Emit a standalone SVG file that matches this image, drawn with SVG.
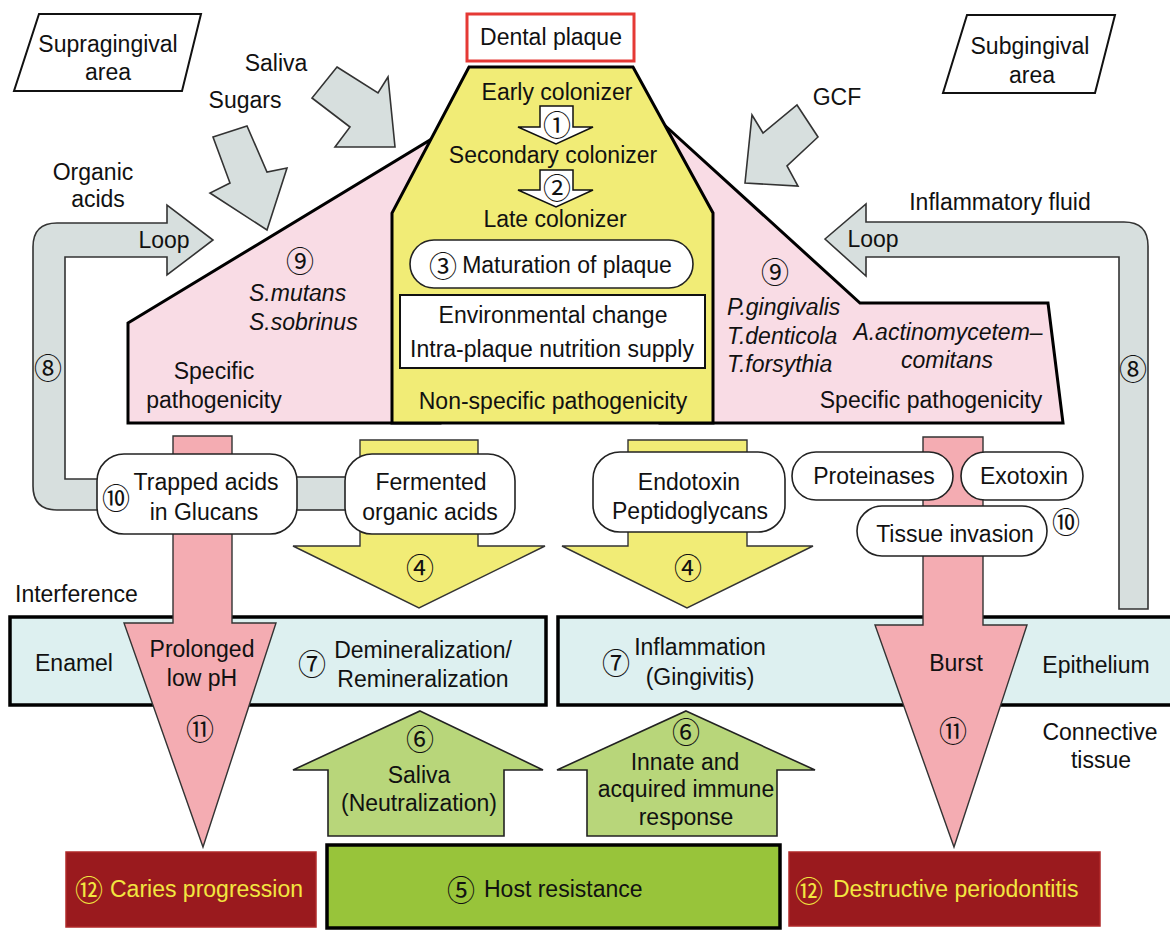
<svg xmlns="http://www.w3.org/2000/svg" width="1170" height="932" viewBox="0 0 1170 932">
<style>
text{font-family:"Liberation Sans","Noto Sans CJK JP",sans-serif;font-size:23px;fill:#111}
.c{text-anchor:middle}
.i{font-style:italic}
.n{font-family:"Noto Sans CJK JP","DejaVu Sans",sans-serif;font-size:28px;text-anchor:middle;dominant-baseline:central}
.y{fill:#f2e640}
.g{fill:#d7dfde;stroke:#333;stroke-width:1.6;stroke-linejoin:miter}
.pill{fill:#fff;stroke:#222;stroke-width:1.6}
.reg{stroke:#000;stroke-width:3;stroke-linejoin:miter}
.para{fill:#fff;stroke:#111;stroke-width:2}
.band{fill:#ddf0f0;stroke:#000;stroke-width:3.5}
.pk{fill:#f4acb2;stroke:#333;stroke-width:1.4}
.yl{fill:#f1ec76;stroke:#333;stroke-width:1.4}
.gr{fill:#b8d67a;stroke:#222;stroke-width:1.6}
.dr{fill:#9a1a1e;stroke:#b02a2a;stroke-width:1.5}
</style>

<!-- background regions -->
<g id="supra-area">
<polygon class="para" points="39,14 201,14 182,91 14,91"/>
<text class="c" x="108" y="52">Supragingival</text>
<text class="c" x="108" y="80">area</text>
</g>
<g id="sub-area">
<polygon class="para" points="967,15 1115,15 1095,93 943,93"/>
<text class="c" x="1030" y="54">Subgingival</text>
<text class="c" x="1032" y="83">area</text>
</g>

<g id="pink-left">
<polygon class="reg" fill="#f9dce5" points="128,323 440,134 440,423 128,423"/>
</g>
<g id="pink-right">
<polygon class="reg" fill="#f9dce5" points="660,121 860,303 1048,303 1063,423 660,423"/>
</g>
<g id="plaque-core">
<polygon class="reg" fill="#f1ec76" points="469,67 633,67 713,213 713,423 392,423 392,213"/>
<text class="c" x="557" y="100">Early colonizer</text>
<polygon fill="#fff" stroke="#111" stroke-width="1.5" points="540,106 573,106 573,127 593,127 556,144 518,127 540,127"/>
<text class="n" x="557" y="124">①</text>
<text class="c" x="553" y="163">Secondary colonizer</text>
<polygon fill="#fff" stroke="#111" stroke-width="1.5" points="540,170 573,170 573,190 593,190 556,207 518,190 540,190"/>
<text class="n" x="557" y="187">②</text>
<text class="c" x="555" y="227">Late colonizer</text>
<text class="c" x="553" y="409">Non-specific pathogenicity</text>
</g>

<g id="left-pink-text">
<text class="n" x="300" y="260">⑨</text>
<text class="i" x="249" y="301">S.mutans</text>
<text class="i" x="249" y="330">S.sobrinus</text>
<text class="c" x="214" y="379">Specific</text>
<text class="c" x="214" y="408">pathogenicity</text>
</g>
<g id="right-pink-text">
<text class="n" x="775" y="271">⑨</text>
<text class="i" x="727" y="315">P.gingivalis</text>
<text class="i" x="727" y="344">T.denticola</text>
<text class="i" x="727" y="372">T.forsythia</text>
<text class="i c" x="948" y="340">A.actinomycetem–</text>
<text class="i c" x="947" y="368">comitans</text>
<text class="c" x="931" y="408">Specific pathogenicity</text>
</g>

<g id="dental-plaque">
<rect x="467" y="14" width="167" height="47" fill="#fff" stroke="#e53935" stroke-width="3"/>
<text class="c" x="551" y="45">Dental plaque</text>
</g>

<g id="maturation">
<rect class="pill" x="410" y="240" width="283" height="48" rx="24"/>
<text class="n" x="443" y="265">③</text>
<text class="c" x="567" y="273">Maturation of plaque</text>
</g>
<g id="environment">
<rect x="400" y="295" width="305" height="73" fill="#fff" stroke="#111" stroke-width="2"/>
<text class="c" x="553" y="323">Environmental change</text>
<text class="c" x="552" y="357">Intra-plaque nutrition supply</text>
</g>

<!-- tissue bands -->
<g id="enamel">
<rect class="band" x="10" y="617" width="536" height="88"/>
<text class="c" x="74" y="671">Enamel</text>
<text class="n" x="312" y="663">⑦</text>
<text class="c" x="423" y="658">Demineralization/</text>
<text class="c" x="423" y="687">Remineralization</text>
</g>
<g id="epithelium">
<rect class="band" x="558" y="617" width="620" height="88"/>
<text class="n" x="616" y="662">⑦</text>
<text class="c" x="700" y="655">Inflammation</text>
<text class="c" x="700" y="685">(Gingivitis)</text>
<text class="c" x="1096" y="673">Epithelium</text>
</g>
<g id="labels">
<text x="15" y="602">Interference</text>
<text class="c" x="1100" y="740">Connective</text>
<text class="c" x="1101" y="768">tissue</text>
</g>

<!-- connectors -->
<g id="connectors">
<polygon class="g" points="337,67 378,93 388,77 395,147 335,147 350,127 312,98"/>
<text class="c" x="276" y="71">Saliva</text>
<polygon class="g" points="213,137 247,126 267,172 287,168 267,230 210,193 230,183"/>
<text class="c" x="245" y="108">Sugars</text>
<polygon class="g" points="797,105 818,137 787,166 798,186 745,183 752,115 763,133"/>
<text class="c" x="837" y="105">GCF</text>

<path class="g" d="M110,510 L57,510 Q33,510 33,486 L33,247 Q33,223 57,223 L167,223 L167,205 L213,240 L167,275 L167,257 L65,257 L65,479 L110,479 Z"/>
<text class="c" x="93" y="180">Organic</text>
<text class="c" x="98" y="207">acids</text>
<text class="c" x="164" y="248">Loop</text>
<text class="n" x="48" y="367">⑧</text>

<path class="g" d="M825,239 L866,204 L866,222 L1124,222 Q1148,222 1148,246 L1148,609 L1119,609 L1119,257 L866,257 L866,276 Z"/>
<text class="c" x="1000" y="210">Inflammatory fluid</text>
<text class="c" x="873" y="247">Loop</text>
<text class="n" x="1133" y="368">⑧</text>

<rect class="g" x="285" y="477" width="65" height="33"/>

<polygon class="pk" points="173,436 232,436 232,623 276,623 203,847 124,623 173,623"/>
<text class="c" x="202" y="657">Prolonged</text>
<text class="c" x="202" y="686">low pH</text>
<text class="n" x="200" y="728">⑪</text>

<polygon class="pk" points="923,437 983,437 983,625 1027,625 954,847 875,625 923,625"/>
<text class="c" x="956" y="671">Burst</text>
<text class="n" x="953" y="730">⑪</text>

<polygon class="yl" points="360,440 478,440 478,546 545,546 419,608 293,546 360,546"/>
<text class="n" x="420" y="567">④</text>
<polygon class="yl" points="628,440 747,440 747,546 813,546 687,608 562,546 628,546"/>
<text class="n" x="688" y="567">④</text>

<polygon class="gr" points="420,711 543,770 504,770 504,836 328,836 328,770 293,770"/>
<text class="n" x="420" y="738">⑥</text>
<text class="c" x="419" y="783">Saliva</text>
<text class="c" x="419" y="811">(Neutralization)</text>
<polygon class="gr" points="686,711 815,770 777,770 777,836 587,836 587,770 557,770"/>
<text class="n" x="686" y="731">⑥</text>
<text class="c" x="685" y="770">Innate and</text>
<text class="c" x="686" y="797">acquired immune</text>
<text class="c" x="686" y="825">response</text>
</g>

<!-- pills -->
<g id="trapped-acids">
<rect class="pill" x="97" y="454" width="200" height="80" rx="27"/>
<text class="n" x="116" y="497">⑩</text>
<text class="c" x="206" y="490">Trapped acids</text>
<text class="c" x="204" y="520">in Glucans</text>
</g>
<g id="fermented">
<rect class="pill" x="345" y="454" width="170" height="80" rx="27"/>
<text class="c" x="431" y="490">Fermented</text>
<text class="c" x="430" y="520">organic acids</text>
</g>
<g id="endotoxin">
<rect class="pill" x="593" y="452" width="192" height="80" rx="27"/>
<text class="c" x="689" y="490">Endotoxin</text>
<text class="c" x="690" y="519">Peptidoglycans</text>
</g>
<g id="proteinases">
<rect class="pill" x="792" y="452" width="161" height="48" rx="24"/>
<text class="c" x="874" y="484">Proteinases</text>
</g>
<g id="exotoxin">
<rect class="pill" x="961" y="452" width="122" height="48" rx="24"/>
<text class="c" x="1024" y="484">Exotoxin</text>
</g>
<g id="tissue-invasion">
<rect class="pill" x="857" y="506" width="190" height="50" rx="25"/>
<text class="c" x="955" y="542">Tissue invasion</text>
<text class="n" x="1066" y="521">⑩</text>
</g>

<!-- outcome boxes -->
<g id="host-resistance">
<rect x="327" y="845" width="453" height="83" fill="#98c43a" stroke="#000" stroke-width="3.5"/>
<text class="n" x="461" y="889">⑤</text>
<text x="484" y="897">Host resistance</text>
</g>
<g id="caries">
<rect class="dr" x="66" y="852" width="250" height="75"/>
<text class="n y" x="89" y="889">⑫</text>
<text class="y" x="110" y="897">Caries progression</text>
</g>
<g id="periodontitis">
<rect class="dr" x="789" y="852" width="311" height="74"/>
<text class="n y" x="809" y="890">⑫</text>
<text class="y" x="833" y="897">Destructive periodontitis</text>
</g>
</svg>
